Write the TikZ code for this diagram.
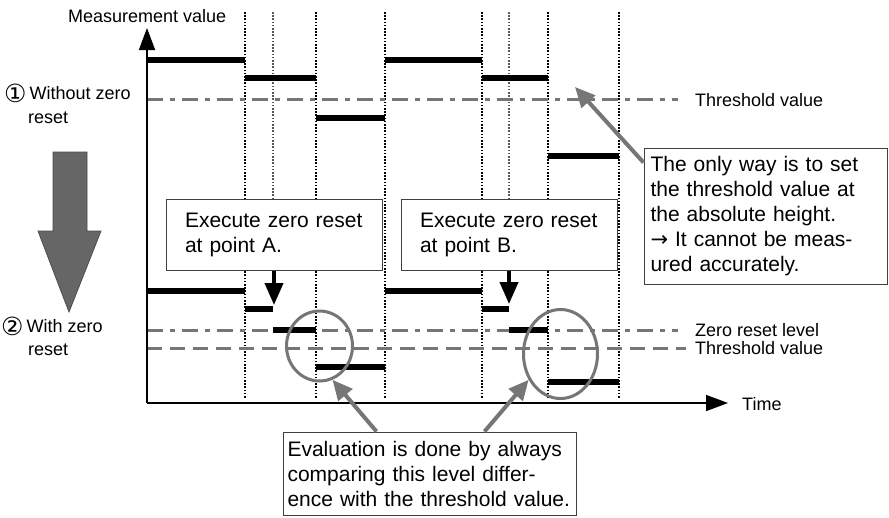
\documentclass[tikz,border=0pt]{standalone}
\usepackage{fontspec}
\setmainfont{Liberation Sans}
\newfontfamily\symfont{DejaVu Sans}
\usetikzlibrary{arrows.meta,shapes.geometric,calc}
\definecolor{lg}{HTML}{767676}
\definecolor{ag}{HTML}{666666}
\newcommand{\circdigit}[1]{{\symfont\fontsize{25}{25}\selectfont\raisebox{-3pt}{#1}}}
\begin{document}
\begin{tikzpicture}[x=1pt,y=-1pt,
 lbl/.style={inner sep=0pt, anchor=base west, font=\fontsize{18}{20}\selectfont},
 txtbox/.style={draw=black!75, line width=1pt, fill=white, inner sep=0pt, align=left, font=\fontsize{21}{25}\selectfont},
 lvl/.style={line width=5.5pt, black},
 vdot/.style={line width=1.3pt, dash pattern=on 1.6pt off 1.6pt},
 dashdot/.style={lg, line width=3pt, dash pattern=on 16pt off 7pt on 5pt off 7pt},
 dashline/.style={lg, line width=3pt, dash pattern=on 15pt off 8pt},
 axis/.style={line width=1.6pt, -{Triangle[length=22pt,width=16pt]}},
 garrow/.style={lg, line width=4pt, -{Triangle[length=20pt,width=18pt]}},
 barrow/.style={line width=4pt, -{Triangle[length=22pt,width=18pt]}},
 ring/.style={ellipse, draw=lg, line width=3pt, inner sep=0pt}
]
\useasboundingbox (0,0) rectangle (889,517);
\fill[white] (0,0) rectangle (889,517);

% vertical dotted lines
\foreach \x in {245,316,385,482,548,619} \draw[vdot] (\x,12) -- (\x,398);
\foreach \x in {273,509} \draw[vdot, black!65] (\x,12) -- (\x,199);

% threshold / reference lines
\draw[dashdot] (147,99) -- (678,99);
\draw[dashdot] (147,330) -- (678,330);
\draw[dashline] (147,348) -- (686,348);

% axes
\coordinate (O) at (147,403);
\coordinate (ytip) at (147,28);
\coordinate (xtip) at (728,403);
\draw[axis] (O) -- (ytip);
\draw[axis] (O) -- (xtip);

% levels without zero reset
\draw[lvl] (147,60) -- (245,60);
\draw[lvl] (245,78) -- (316,78);
\draw[lvl] (316,118) -- (385,118);
\draw[lvl] (385,60) -- (482,60);
\draw[lvl] (482,78) -- (548,78);
\draw[lvl] (548,156) -- (619,156);

% levels with zero reset
\draw[lvl] (147,291) -- (245,291);
\draw[lvl] (245,309) -- (273,309);
\draw[lvl] (273,330) -- (316,330);
\draw[lvl] (316,367) -- (385,367);
\draw[lvl] (385,291) -- (482,291);
\draw[lvl] (482,309) -- (509,309);
\draw[lvl] (509,330) -- (548,330);
\draw[lvl] (548,382) -- (619,382);

% boxes
\node[txtbox, minimum width=216pt, minimum height=71pt, text width=178pt] (boxA) at (274,234.5) {Execute zero reset\\at point A.};
\node[txtbox, minimum width=216pt, minimum height=71pt, text width=178pt] (boxB) at (509,234.5) {Execute zero reset\\at point B.};
\node[txtbox, minimum width=243pt, minimum height=136pt, text width=230pt] (onlybox) at (765.5,216) {\makebox[230pt][s]{The only way is to set}\\\makebox[230pt][s]{the threshold value at}\\the absolute height.\\\makebox[230pt][s]{{\symfont →} It cannot be meas-}\\ured accurately.};
\node[txtbox, minimum width=293pt, minimum height=83pt, text width=284pt] (evalbox) at (429.5,473.5) {\makebox[284pt][s]{Evaluation is done by always}\\\makebox[284pt][s]{comparing this level differ-}\\ence with the threshold value.};

% black arrows
\coordinate (ptA) at (274,305);
\coordinate (ptB) at (509,304);
\draw[barrow] (boxA.south) -- (ptA);
\draw[barrow] (boxB.south) -- (ptB);

% rings
\node[ring, minimum width=66pt, minimum height=70pt] (ringA) at (319.5,346) {};
\node[ring, minimum width=74pt, minimum height=89pt] (ringB) at (560.5,354) {};

% gray arrows
\coordinate (eA) at ($(evalbox.north west)+(94,0)$);
\coordinate (eB) at ($(evalbox.north west)+(202,0)$);
\draw[garrow] (eA) -- (ringA.-69);
\draw[garrow] (eB) -- (ringB.-141);
\coordinate (oS) at ($(onlybox.north west)+(0,15)$);
\coordinate (thr) at (575,87);
\draw[garrow] (oS) -- (thr);

% big down arrow
\filldraw[fill=ag, draw=black!70, line width=0.8pt] (53,152) -- (87,152) -- (87,231) -- (101,231) -- (69,312) -- (38,231) -- (53,231) -- cycle;

% labels
\node[lbl] (mv) at (68,22) {Measurement value};
\node[lbl] (l1) at (4,99) {\circdigit{①}\hspace{3pt}Without zero};
\node[lbl] (l1b) at (28,123) {reset};
\node[lbl] (l2) at (1,332) {\circdigit{②}\hspace{3pt}With zero};
\node[lbl] (l2b) at (28,355) {reset};
\node[lbl] (thr1) at (695,106) {Threshold value};
\node[lbl] (zrl) at (695,336) {Zero reset level};
\node[lbl] (thr2) at (695,354) {Threshold value};
\node[lbl] (time) at (742,410) {Time};
\end{tikzpicture}
\end{document}
